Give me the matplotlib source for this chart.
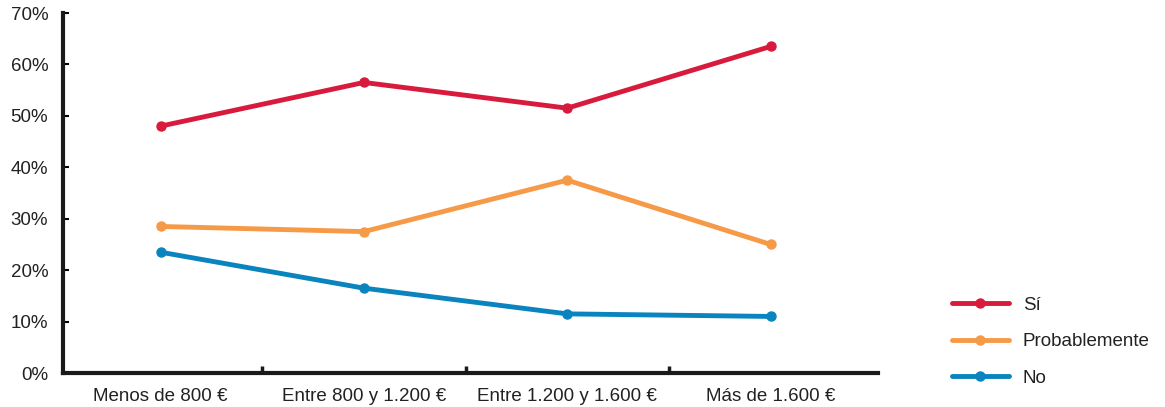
import matplotlib
matplotlib.use("Agg")
import matplotlib.pyplot as plt
from matplotlib.ticker import FuncFormatter, FixedLocator

# income brackets and the share of answers per group (percent)
categorias = ["Menos de 800 €", "Entre 800 y 1.200 €", "Entre 1.200 y 1.600 €", "Más de 1.600 €"]
si = [48.0, 56.5, 51.5, 63.5]
probablemente = [28.5, 27.5, 37.5, 25.0]
no = [23.5, 16.5, 11.5, 11.0]

plt.rcParams['font.family'] = ['Liberation Sans', 'DejaVu Sans']
FS = 13.5

fig = plt.figure(figsize=(11.65, 4.07), dpi=100)
ax = fig.add_axes([0.054, 0.0835, 0.700, 0.8845])

x = range(len(categorias))
ax.plot(x, si, color='#D81B3C', lw=3.5, marker='o', ms=6.5, label='Sí', solid_capstyle='round')
ax.plot(x, probablemente, color='#F69A48', lw=3.5, marker='o', ms=6.5, label='Probablemente', solid_capstyle='round')
ax.plot(x, no, color='#0A84BE', lw=3.5, marker='o', ms=6.5, label='No', solid_capstyle='round')

ax.set_xlim(-0.48, 3.53)
ax.set_ylim(0, 70)
ax.set_yticks(range(0, 71, 10))
ax.yaxis.set_major_formatter(FuncFormatter(lambda v, p: f"{int(v)}%"))

# separators between brackets on the x axis, labels centred in each band
ax.xaxis.set_major_locator(FixedLocator([0.5, 1.5, 2.5]))
ax.xaxis.set_minor_locator(FixedLocator(list(x)))
ax.set_xticklabels([], minor=False)
ax.set_xticklabels(categorias, minor=True)
ax.tick_params(axis='x', which='major', direction='in', length=5, width=2.5, color='#1a1a1a')
ax.tick_params(axis='x', which='minor', length=0, pad=11, labelsize=FS, labelcolor='#222222')
ax.tick_params(axis='y', direction='in', length=4, width=1.5, pad=10.5, labelsize=FS, labelcolor='#222222')

for s in ['top', 'right']:
    ax.spines[s].set_visible(False)
for s in ['left', 'bottom']:
    ax.spines[s].set_linewidth(3)
    ax.spines[s].set_color('#1a1a1a')

ax.legend(loc='upper left', bbox_to_anchor=(0.8026, 0.312), bbox_transform=fig.transFigure,
          frameon=False, numpoints=1, handlelength=3.04, handletextpad=0.75,
          labelspacing=1.03, fontsize=FS, labelcolor='#222222')

fig.savefig('out.png', dpi=100)
